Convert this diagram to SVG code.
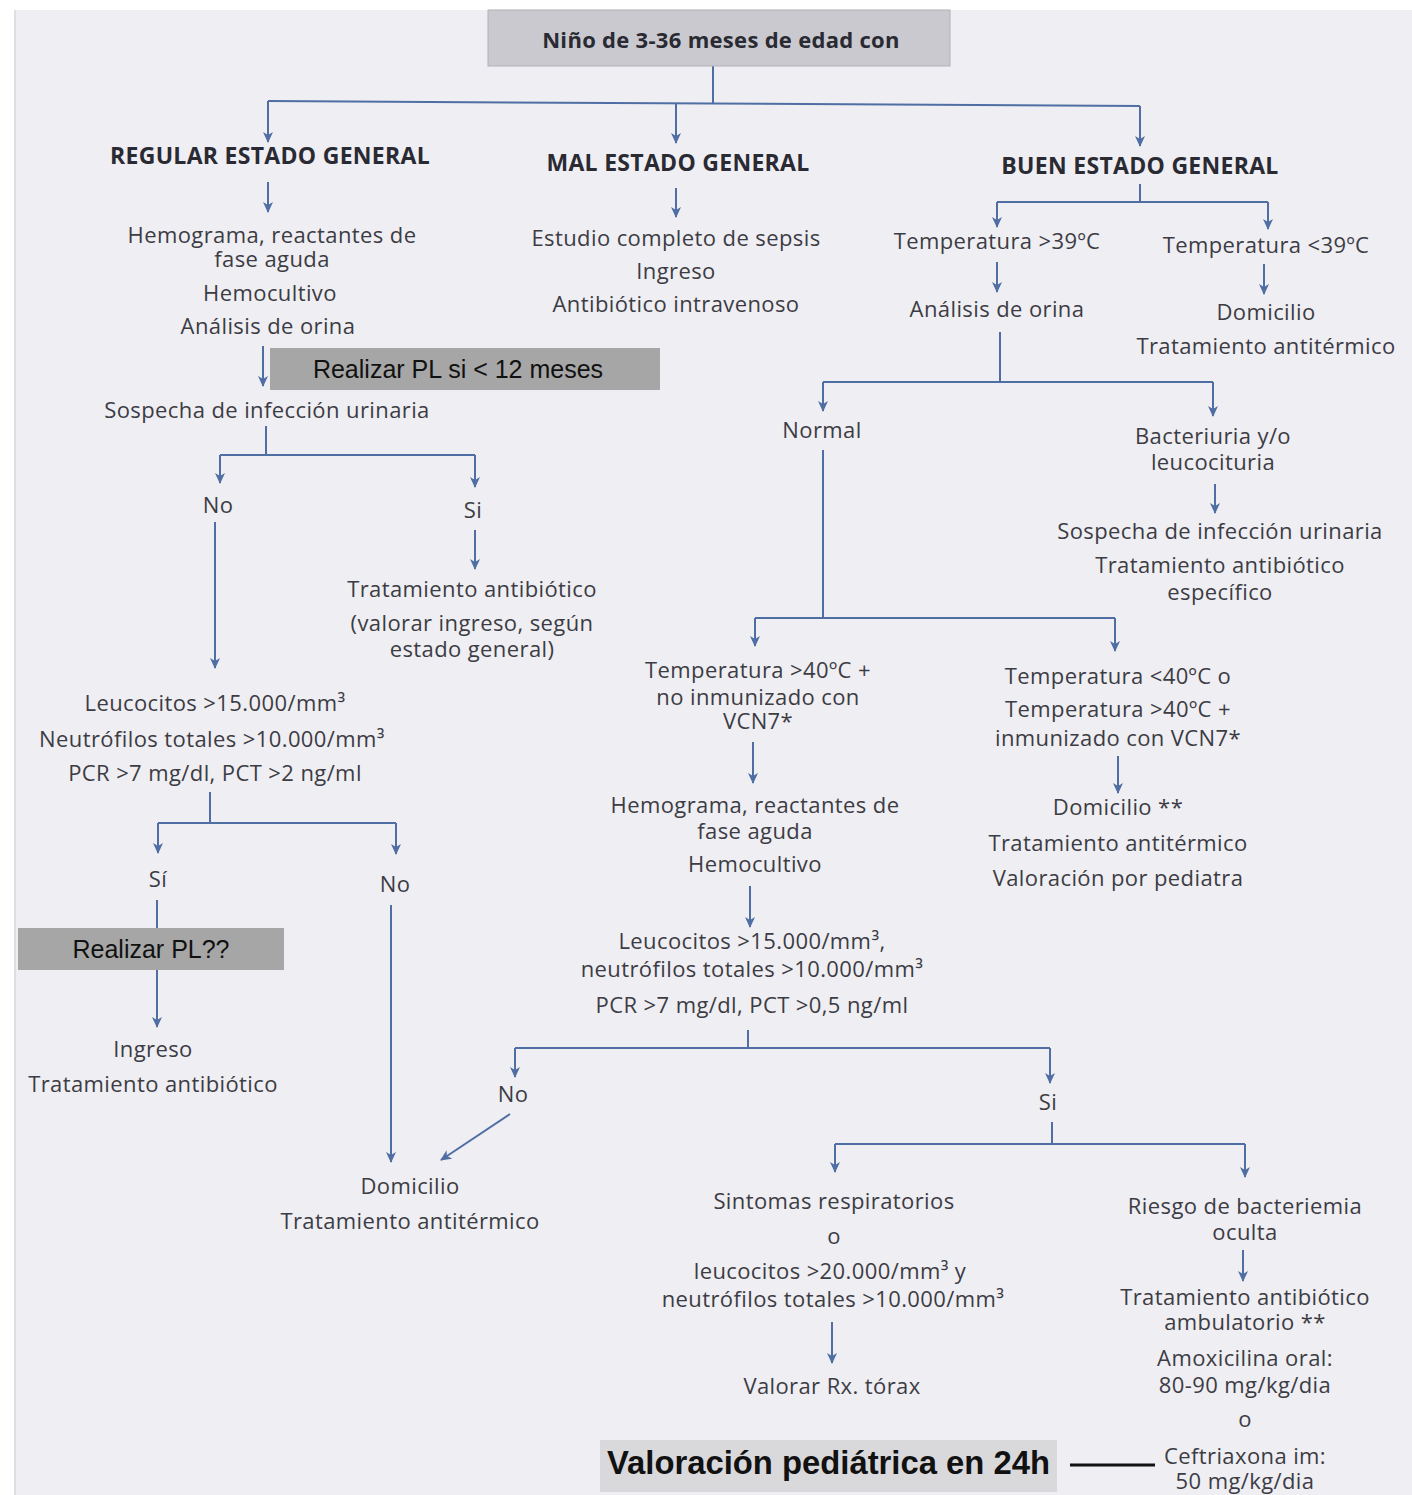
<svg xmlns="http://www.w3.org/2000/svg" width="1412" height="1495" viewBox="0 0 1412 1495">
<style>
text{font-family:"Open Sans","Noto Sans",sans-serif;font-size:22px;letter-spacing:0.4px;fill:#3c3c44;text-anchor:middle}
.h{font-weight:bold;font-size:23px;letter-spacing:0.3px;fill:#2a2a33}
.c{stroke:#4f6ea3;stroke-width:2;fill:none}
.a{stroke:#4f6ea3;stroke-width:2;fill:none;marker-end:url(#ar)}
.box{fill:#a6a6a6}
.bt{font-family:"Liberation Sans",Arial,sans-serif;font-size:25px;letter-spacing:0;fill:#111}
</style>
<defs>
<marker id="ar" markerWidth="11" markerHeight="10" refX="10" refY="5" orient="auto" markerUnits="userSpaceOnUse" viewBox="0 0 11 10">
<path d="M0,0 L11,5 L0,10 L3,5 Z" fill="#4f6ea3"/>
</marker>
</defs>
<rect width="1412" height="1495" fill="#ffffff"/>
<rect x="15" y="10" width="1397" height="1485" fill="#efeef3"/>
<line x1="15" y1="10" x2="15" y2="1495" stroke="#d6d6dc" stroke-width="1.5"/>

<g id="connectors">
<path class="c" d="M713,66 V103"/>
<path class="c" d="M268,101 L1140,106"/>
<path class="a" d="M268,101 V142"/>
<path class="a" d="M676,104 V143"/>
<path class="a" d="M1140,106 V146"/>
<path class="a" d="M268,182 V212"/>
<path class="a" d="M676,188 V217"/>
<path class="c" d="M1140,184 V202 M997,202 H1268"/>
<path class="a" d="M997,202 V227"/>
<path class="a" d="M1268,202 V229"/>
<path class="a" d="M263,346 V386"/>
<path class="c" d="M266,426 V455 M220,455 H475"/>
<path class="a" d="M220,455 V483"/>
<path class="a" d="M475,455 V487"/>
<path class="a" d="M215,522 V668"/>
<path class="a" d="M475,530 V569"/>
<path class="c" d="M210,792 V823 M158,823 H396"/>
<path class="a" d="M158,823 V853"/>
<path class="a" d="M396,823 V854"/>
<path class="a" d="M157,900 V1027"/>
<path class="a" d="M391,905 V1162"/>
<path class="a" d="M997,262 V292"/>
<path class="a" d="M1264,264 V294"/>
<path class="c" d="M1000,332 V382 M823,382 H1213"/>
<path class="a" d="M823,382 V411"/>
<path class="a" d="M1213,382 V416"/>
<path class="a" d="M1215,484 V513"/>
<path class="c" d="M823,450 V618 M755,618 H1115"/>
<path class="a" d="M755,618 V646"/>
<path class="a" d="M1115,618 V651"/>
<path class="a" d="M753,742 V783"/>
<path class="a" d="M1118,756 V793"/>
<path class="a" d="M750,886 V927"/>
<path class="c" d="M748,1030 V1048 M515,1048 H1050"/>
<path class="a" d="M515,1048 V1077"/>
<path class="a" d="M1050,1048 V1083"/>
<path class="a" d="M510,1114 L441,1160"/>
<path class="c" d="M1052,1122 V1144 M835,1144 H1245"/>
<path class="a" d="M835,1144 V1172"/>
<path class="a" d="M1245,1144 V1177"/>
<path class="a" d="M832,1322 V1363"/>
<path class="a" d="M1243,1250 V1281"/>
<path class="c" d="M1070,1465 H1155" style="stroke:#111;stroke-width:3"/>
</g>

<g id="n-root">
<rect x="488" y="10" width="462" height="56" fill="#c9c9cf" stroke="#b0b0b8"/>
<text x="721" y="48" class="h" style="font-size:22px">Niño de 3-36 meses de edad con</text>
</g>

<g id="n-regular"><text x="270" y="164" class="h">REGULAR ESTADO GENERAL</text></g>
<g id="n-mal"><text x="678" y="171" class="h">MAL ESTADO GENERAL</text></g>
<g id="n-buen"><text x="1140" y="174" class="h">BUEN ESTADO GENERAL</text></g>

<g id="n-hemograma1">
<text x="272" y="243">Hemograma, reactantes de</text>
<text x="272" y="267">fase aguda</text>
<text x="270" y="301">Hemocultivo</text>
<text x="268" y="334">Análisis de orina</text>
</g>
<g id="n-pl12">
<rect x="270" y="348" width="390" height="42" class="box"/>
<text x="458" y="378" class="bt">Realizar PL si &lt; 12 meses</text>
</g>
<g id="n-sospecha1"><text x="267" y="418">Sospecha de infección urinaria</text></g>
<g id="n-no1"><text x="218" y="513">No</text></g>
<g id="n-si1"><text x="473" y="518">Si</text></g>
<g id="n-trat1">
<text x="472" y="597">Tratamiento antibiótico</text>
<text x="472" y="631">(valorar ingreso, según</text>
<text x="472" y="657">estado general)</text>
</g>
<g id="n-leuco1">
<text x="215" y="711">Leucocitos &gt;15.000/mm³</text>
<text x="212" y="747">Neutrófilos totales &gt;10.000/mm³</text>
<text x="215" y="781">PCR &gt;7 mg/dl, PCT &gt;2 ng/ml</text>
</g>
<g id="n-si2"><text x="158" y="887">Sí</text></g>
<g id="n-no2"><text x="395" y="892">No</text></g>
<g id="n-pl">
<rect x="18" y="928" width="266" height="42" class="box"/>
<text x="151" y="958" class="bt">Realizar PL??</text>
</g>
<g id="n-ingreso">
<text x="153" y="1057">Ingreso</text>
<text x="153" y="1092">Tratamiento antibiótico</text>
</g>
<g id="n-domicilio1">
<text x="410" y="1194">Domicilio</text>
<text x="410" y="1229">Tratamiento antitérmico</text>
</g>

<g id="n-sepsis">
<text x="676" y="246">Estudio completo de sepsis</text>
<text x="676" y="279">Ingreso</text>
<text x="676" y="312">Antibiótico intravenoso</text>
</g>

<g id="n-t39a"><text x="997" y="249">Temperatura &gt;39ºC</text></g>
<g id="n-t39b"><text x="1266" y="253">Temperatura &lt;39ºC</text></g>
<g id="n-orina2"><text x="997" y="317">Análisis de orina</text></g>
<g id="n-domicilio2">
<text x="1266" y="320">Domicilio</text>
<text x="1266" y="354">Tratamiento antitérmico</text>
</g>
<g id="n-normal"><text x="822" y="438">Normal</text></g>
<g id="n-bacteriuria">
<text x="1213" y="444">Bacteriuria y/o</text>
<text x="1213" y="470">leucocituria</text>
</g>
<g id="n-sospecha2">
<text x="1220" y="539">Sospecha de infección urinaria</text>
<text x="1220" y="573">Tratamiento antibiótico</text>
<text x="1220" y="600">específico</text>
</g>
<g id="n-t40a">
<text x="758" y="678">Temperatura &gt;40ºC +</text>
<text x="758" y="705">no inmunizado con</text>
<text x="758" y="729">VCN7*</text>
</g>
<g id="n-t40b">
<text x="1118" y="684">Temperatura &lt;40ºC o</text>
<text x="1118" y="717">Temperatura &gt;40ºC +</text>
<text x="1118" y="746">inmunizado con VCN7*</text>
</g>
<g id="n-domicilio3">
<text x="1118" y="815">Domicilio **</text>
<text x="1118" y="851">Tratamiento antitérmico</text>
<text x="1118" y="886">Valoración por pediatra</text>
</g>
<g id="n-hemograma2">
<text x="755" y="813">Hemograma, reactantes de</text>
<text x="755" y="839">fase aguda</text>
<text x="755" y="872">Hemocultivo</text>
</g>
<g id="n-leuco2">
<text x="752" y="949">Leucocitos &gt;15.000/mm³,</text>
<text x="752" y="977">neutrófilos totales &gt;10.000/mm³</text>
<text x="752" y="1013">PCR &gt;7 mg/dl, PCT &gt;0,5 ng/ml</text>
</g>
<g id="n-no3"><text x="513" y="1102">No</text></g>
<g id="n-si3"><text x="1048" y="1110">Si</text></g>
<g id="n-sintomas">
<text x="834" y="1209">Sintomas respiratorios</text>
<text x="834" y="1244">o</text>
<text x="830" y="1279">leucocitos &gt;20.000/mm³ y</text>
<text x="833" y="1307">neutrófilos totales &gt;10.000/mm³</text>
</g>
<g id="n-rx"><text x="832" y="1394">Valorar Rx. tórax</text></g>
<g id="n-riesgo">
<text x="1245" y="1214">Riesgo de bacteriemia</text>
<text x="1245" y="1240">oculta</text>
</g>
<g id="n-ambulatorio">
<text x="1245" y="1305">Tratamiento antibiótico</text>
<text x="1245" y="1330">ambulatorio **</text>
<text x="1245" y="1366">Amoxicilina oral:</text>
<text x="1245" y="1393">80-90 mg/kg/dia</text>
<text x="1245" y="1427">o</text>
<text x="1245" y="1464">Ceftriaxona im:</text>
<text x="1245" y="1489">50 mg/kg/dia</text>
</g>
<g id="n-valoracion">
<rect x="600" y="1440" width="457" height="52" fill="#d9d9dc"/>
<text x="607" y="1474" textLength="443" lengthAdjust="spacingAndGlyphs" style="text-anchor:start;font-family:'Liberation Sans',Arial,sans-serif;font-weight:bold;font-size:34px;letter-spacing:0;fill:#111">Valoración pediátrica en 24h</text>
</g>
</svg>
